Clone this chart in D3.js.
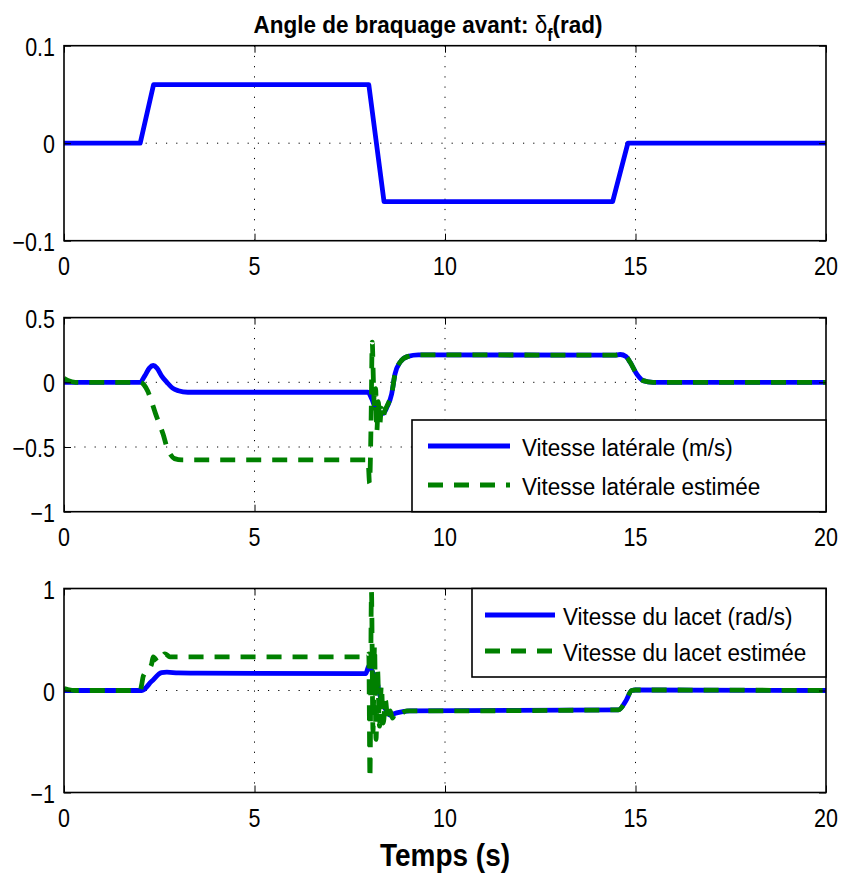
<!DOCTYPE html>
<html>
<head>
<meta charset="utf-8">
<script src="https://cdn.jsdelivr.net/npm/d3@7"></script>
<style>
  body { margin: 0; background: #fff; }
  svg { display: block; }
</style>
</head>
<body>
<script>
// ---- data ----
const timeTicks = [0, 5, 10, 15, 20];

// front steering angle (rad)
const steerTime  = [0, 2.0, 2.35, 8.0, 8.4, 14.4, 14.8, 20];
const steerAngle = [0, 0, 0.06, 0.06, -0.06, -0.06, 0, 0];
const steerTicks = [-0.1, 0, 0.1];

// lateral speed (m/s), measured
const latTime  = [0, 2.0, 2.12, 2.24, 2.34, 2.44, 2.56, 2.7, 2.85, 3.0, 3.25, 7.98, 8.08, 8.16, 8.27, 8.38, 8.48, 8.6, 8.69, 8.82, 9.03, 9.3, 14.45, 14.6, 14.75, 14.86, 15.03, 15.2, 15.46, 20];
const latSpeed = [0, 0, 0.05, 0.11, 0.13, 0.11, 0.05, 0.0, -0.045, -0.065, -0.077, -0.077, -0.13, -0.19, -0.23, -0.24, -0.19, -0.09, 0.067, 0.155, 0.2, 0.212, 0.21, 0.215, 0.2, 0.155, 0.065, 0.013, 0, 0];

// lateral speed (m/s), estimated
const latEstTime  = [0, 0.1, 0.3, 2.0, 2.1, 2.2, 2.3, 2.4, 2.5, 2.6, 2.7, 2.8, 2.9, 3.1, 7.98, 8.02, 8.06, 8.09, 8.12, 8.15, 8.18, 8.21, 8.25, 8.29, 8.33, 8.37, 8.42, 8.5, 8.6, 8.69, 8.82, 9.03, 9.3, 14.45, 14.6, 14.75, 14.86, 15.03, 15.2, 15.46, 20];
const latEstSpeed = [0.03, 0.015, 0, 0, -0.02, -0.07, -0.15, -0.24, -0.32, -0.4, -0.5, -0.56, -0.59, -0.6, -0.6, -0.78, -0.3, 0.31, 0.02, -0.2, -0.05, -0.38, -0.15, -0.32, -0.2, -0.27, -0.22, -0.17, -0.09, 0.067, 0.155, 0.2, 0.212, 0.21, 0.215, 0.2, 0.155, 0.065, 0.013, 0, 0];
const latTicks = [-1, -0.5, 0, 0.5];

// yaw rate (rad/s), measured
const yawTime = [0, 2.04, 2.3, 2.56, 2.7, 3.0, 3.5, 7.92, 8.0, 8.1, 8.2, 8.3, 8.42, 8.55, 8.73, 9.08, 14.55, 14.75, 14.9, 15.0, 20];
const yawRate = [0, 0, 0.09, 0.175, 0.18, 0.172, 0.17, 0.165, 0.24, 0.18, 0.11, -0.06, -0.17, -0.24, -0.22, -0.2, -0.19, -0.1, 0, 0.005, 0];

// yaw rate (rad/s), estimated
const yawEstTime = [0, 0.1, 0.3, 2.0, 2.04, 2.08, 2.2, 2.3, 2.34, 2.47, 2.65, 2.78, 3.0, 3.25, 7.97, 8.0, 8.03, 8.07, 8.11, 8.15, 8.19, 8.23, 8.28, 8.33, 8.38, 8.44, 8.5, 8.56, 8.62, 8.7, 8.8, 9.0, 9.08, 14.55, 14.75, 14.9, 15.0, 20];
const yawEstRate = [0.02, 0.01, 0, 0, 0.06, 0.14, 0.2, 0.26, 0.33, 0.28, 0.36, 0.33, 0.33, 0.33, 0.33, 0.36, -0.86, 0.97, -0.4, 0.44, -0.48, 0.2, -0.35, 0.05, -0.32, -0.1, -0.3, -0.2, -0.27, -0.22, -0.23, -0.2, -0.2, -0.19, -0.1, 0, 0.005, 0];
const yawTicks = [-1, 0, 1];

// ---- layout ----
const W = 842, H = 882;
const X0 = 64, X1 = 826;
const SY = 1.1;            // slight vertical stretch of the lettering
const FONT = "'Liberation Sans', Arial, Helvetica, sans-serif";
const BLUE = "#0000ff", GREEN = "#008000";
const DASH = "15,11";
const LW = 4.8;

const svg = d3.select("body").append("svg")
  .attr("width", W).attr("height", H)
  .style("font-family", FONT);

const zip = (a, b) => a.map((t, i) => [t, b[i]]);
const fmt = v => (v < 0 ? "\u2212" : "") + String(Math.abs(v));

function label(g, x, y, str, size, anchor, weight, sy) {
  return g.append("text")
    .attr("transform", `translate(${x},${y}) scale(1,${sy || SY})`)
    .attr("text-anchor", anchor || "start")
    .attr("font-size", size)
    .attr("font-weight", weight || "normal")
    .attr("fill", "#000")
    .text(str);
}

function panel(cfg) {
  const { top, bottom, domain, ticks, series, legend, curve, id } = cfg;
  const x = d3.scaleLinear().domain([0, 20]).range([X0, X1]);
  const y = d3.scaleLinear().domain(domain).range([bottom, top]);
  const g = svg.append("g");

  g.append("clipPath").attr("id", id).append("rect")
    .attr("x", X0).attr("y", top).attr("width", X1 - X0).attr("height", bottom - top);

  // dotted grid
  g.append("g").selectAll("line").data(timeTicks.filter(t => t > 0 && t < 20)).join("line")
    .attr("x1", d => x(d)).attr("x2", d => x(d)).attr("y1", top).attr("y2", bottom)
    .attr("stroke", "#000").attr("stroke-width", 1).attr("stroke-dasharray", "1.2,9");
  g.append("g").selectAll("line").data(ticks.filter(t => t > domain[0] && t < domain[1])).join("line")
    .attr("y1", d => y(d)).attr("y2", d => y(d)).attr("x1", X0).attr("x2", X1)
    .attr("stroke", "#000").attr("stroke-width", 1).attr("stroke-dasharray", "1.2,9");

  // data lines
  const line = d3.line().x(d => x(d[0])).y(d => y(d[1])).curve(curve);
  const lines = g.append("g").attr("clip-path", `url(#${id})`);
  series.forEach(s => {
    lines.append("path").datum(s.data)
      .attr("d", line)
      .attr("fill", "none")
      .attr("stroke", s.color)
      .attr("stroke-width", LW)
      .attr("stroke-linejoin", "round")
      .attr("stroke-dasharray", s.dash || null);
  });

  // axes with inward ticks on all four sides
  const tl = 7;
  const axB = d3.axisBottom(x).tickValues(timeTicks).tickSizeInner(-tl).tickSizeOuter(0).tickFormat("");
  const axT = d3.axisTop(x).tickValues(timeTicks).tickSizeInner(-tl).tickSizeOuter(0).tickFormat("");
  const axL = d3.axisLeft(y).tickValues(ticks).tickSizeInner(-tl).tickSizeOuter(0).tickFormat("");
  const axR = d3.axisRight(y).tickValues(ticks).tickSizeInner(-tl).tickSizeOuter(0).tickFormat("");
  [[axB, `translate(0,${bottom})`], [axT, `translate(0,${top})`],
   [axL, `translate(${X0},0)`], [axR, `translate(${X1},0)`]].forEach(([ax, tr]) => {
    const a = g.append("g").attr("transform", tr).call(ax);
    a.select(".domain").remove();
    a.selectAll(".tick line").attr("stroke", "#000").attr("stroke-width", 1);
  });
  g.append("rect").attr("x", X0).attr("y", top).attr("width", X1 - X0).attr("height", bottom - top)
    .attr("fill", "none").attr("stroke", "#000").attr("stroke-width", 1.6);

  // tick labels
  timeTicks.forEach(t => label(g, x(t), bottom + 34.5, fmt(t), 21.5, "middle", "normal", 1.18));
  ticks.forEach(v => label(g, 55, y(v) + 10, fmt(v), 21.5, "end", "normal", 1.18));

  // legend
  if (legend) {
    const L = legend;
    g.append("rect").attr("x", L.x).attr("y", L.y).attr("width", L.w).attr("height", L.h)
      .attr("fill", "#fff").attr("stroke", "#000").attr("stroke-width", 1.6);
    L.items.forEach((it, i) => {
      const ly = L.rows[i];
      g.append("line").attr("x1", L.lx0).attr("x2", L.lx1).attr("y1", ly).attr("y2", ly)
        .attr("stroke", it.color).attr("stroke-width", LW)
        .attr("stroke-dasharray", it.dash || null);
      label(g, L.tx, ly + 9.5, it.text, 22.5, "start");
    });
  }
  return { x, y };
}

// ---- panel 1: steering angle ----
panel({
  id: "clip1", top: 45.7, bottom: 240.7, domain: [-0.1, 0.1], ticks: steerTicks,
  curve: d3.curveLinear,
  series: [{ data: zip(steerTime, steerAngle), color: BLUE }]
});

// ---- panel 2: lateral speed ----
panel({
  id: "clip2", top: 317.6, bottom: 511.7, domain: [-1, 0.5], ticks: latTicks,
  curve: d3.curveMonotoneX,
  series: [
    { data: zip(latTime, latSpeed), color: BLUE },
    { data: zip(latEstTime, latEstSpeed), color: GREEN, dash: DASH }
  ],
  legend: {
    x: 412, y: 420, w: 414, h: 91.7, lx0: 428, lx1: 510, tx: 522, rows: [446, 485],
    items: [
      { text: "Vitesse latérale (m/s)", color: BLUE },
      { text: "Vitesse latérale estimée", color: GREEN, dash: DASH }
    ]
  }
});

// ---- panel 3: yaw rate ----
panel({
  id: "clip3", top: 588.5, bottom: 792.5, domain: [-1, 1], ticks: yawTicks,
  curve: d3.curveMonotoneX,
  series: [
    { data: zip(yawTime, yawRate), color: BLUE },
    { data: zip(yawEstTime, yawEstRate), color: GREEN, dash: DASH }
  ],
  legend: {
    x: 472, y: 588.5, w: 354, h: 88.5, lx0: 485, lx1: 555, tx: 563, rows: [615, 651],
    items: [
      { text: "Vitesse du lacet (rad/s)", color: BLUE },
      { text: "Vitesse du lacet estimée", color: GREEN, dash: DASH }
    ]
  }
});

// ---- title and time label ----
const title = svg.append("text")
  .attr("transform", `translate(428,33) scale(1,${SY})`)
  .attr("text-anchor", "middle").attr("font-size", 22.5).attr("font-weight", "bold");
title.append("tspan").text("Angle de braquage avant: ");
title.append("tspan").attr("font-weight", "normal").text("δ");
title.append("tspan").attr("font-size", 16).attr("dy", 7).text("f");
title.append("tspan").attr("dy", -7).text("(rad)");

label(svg, 445, 866, "Temps (s)", 28, "middle", "bold");
</script>
</body>
</html>
